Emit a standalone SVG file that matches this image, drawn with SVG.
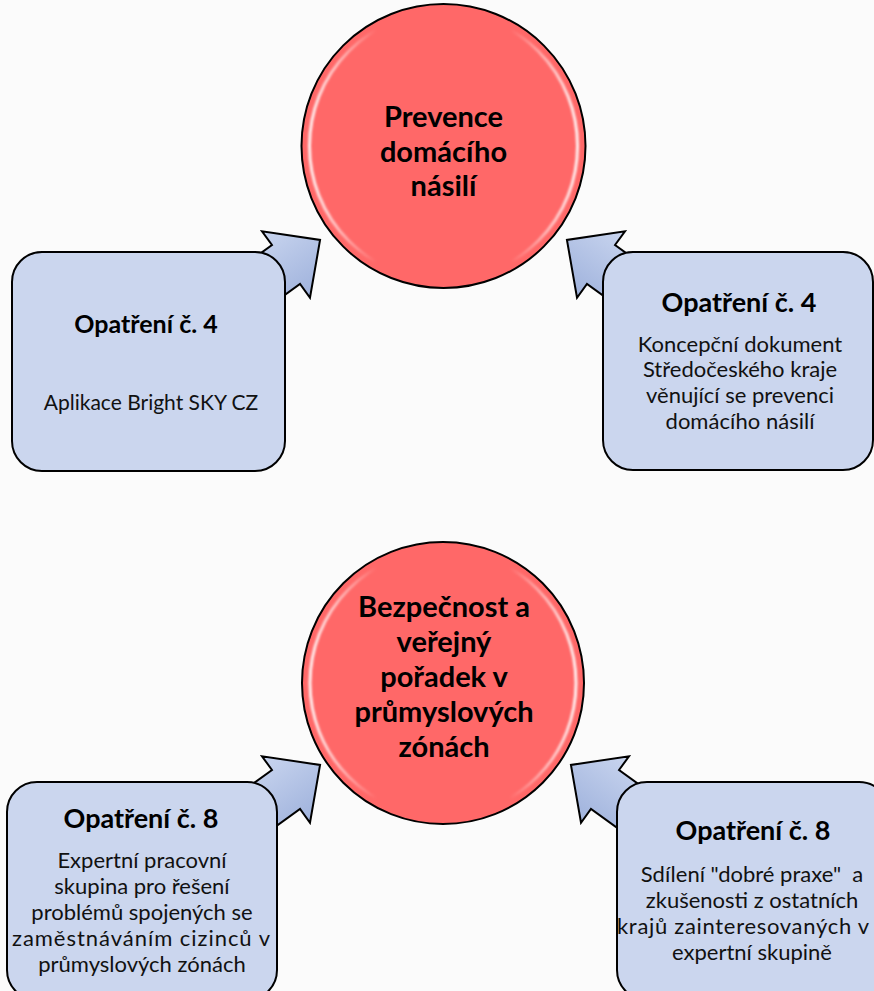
<svg xmlns="http://www.w3.org/2000/svg" width="874" height="991" viewBox="0 0 874 991">
<defs>
<style>
.circ{fill:#ff6868;stroke:#000;stroke-width:2}
.ring{fill:none;stroke:url(#ringg);stroke-width:3;filter:url(#blur)}
.box{fill:#cbd6ee;stroke:#000;stroke-width:2}
.hl{stroke:#fff;stroke-width:5;stroke-linecap:round;opacity:1;filter:url(#blur)}
.arr{fill:url(#arrg);stroke:#000;stroke-width:2;stroke-linejoin:miter}
.ct{font-family:Lato,"Liberation Sans",sans-serif;font-weight:bold;font-size:29px;fill:#000;text-anchor:middle}
.tt{font-family:Lato,"Liberation Sans",sans-serif;font-weight:bold;font-size:25px;fill:#000;text-anchor:middle}
.bt{font-family:Lato,"Liberation Sans",sans-serif;font-size:22px;fill:#111;text-anchor:middle}
</style>
<filter id="blur" x="-20%" y="-20%" width="140%" height="140%"><feGaussianBlur stdDeviation="1.2"/></filter>
<linearGradient id="ringg" x1="0" y1="0" x2="1" y2="0">
<stop offset="0" stop-color="#fff" stop-opacity="0.9"/>
<stop offset="0.12" stop-color="#fff" stop-opacity="0.5"/>
<stop offset="0.25" stop-color="#fff" stop-opacity="0"/>
<stop offset="0.75" stop-color="#fff" stop-opacity="0"/>
<stop offset="0.88" stop-color="#fff" stop-opacity="0.5"/>
<stop offset="1" stop-color="#fff" stop-opacity="0.9"/>
</linearGradient>
<linearGradient id="arrg" x1="0" y1="0" x2="0" y2="1">
<stop offset="0" stop-color="#c9d5ef"/>
<stop offset="1" stop-color="#9fb2dc"/>
</linearGradient>
<polygon id="arrow" points="-48,-24 0,-24 0,-41 42,0 0,41 0,24 -48,24"/>
</defs>
<rect width="874" height="991" fill="#fbfbfb"/>

<g id="connectors">
<use href="#arrow" class="arr" transform="translate(286,264.5) rotate(-35.8)"/>
<g transform="translate(887,0) scale(-1,1)"><use href="#arrow" class="arr" transform="translate(286,264.5) rotate(-35.8)"/></g>
<use href="#arrow" class="arr" transform="translate(286,789.5) rotate(-35.8)"/>
<g transform="translate(891,0) scale(-1,1)"><use href="#arrow" class="arr" transform="translate(286,789.5) rotate(-35.8)"/></g>
</g>

<g id="c1">
<circle class="circ" cx="443.5" cy="146" r="142"/>
<circle class="ring" cx="443.5" cy="146" r="134"/>
<text class="ct" x="443.5" y="127">Prevence</text>
<text class="ct" x="443.5" y="162">domácího</text>
<text class="ct" x="443.5" y="196">násilí</text>
</g>

<g id="c2">
<circle class="circ" cx="443" cy="683" r="141"/>
<circle class="ring" cx="443" cy="683" r="133"/>
<text class="ct" x="444" y="617">Bezpečnost a</text>
<text class="ct" x="444" y="652">veřejný</text>
<text class="ct" x="444" y="687">pořadek v</text>
<text class="ct" x="444" y="722">průmyslových</text>
<text class="ct" x="444" y="757">zónách</text>
</g>

<g id="b1">
<rect class="box" x="12" y="252" width="273" height="219" rx="30"/>
<line class="hl" x1="29" y1="275" x2="29" y2="450"/>
<line class="hl" x1="271" y1="275" x2="271" y2="450"/>
<text class="tt" x="146" y="333">Opatření č. 4</text>
<text class="bt" x="151" y="410" style="font-size:21px">Aplikace Bright SKY CZ</text>
</g>

<g id="b2">
<rect class="box" x="603" y="252" width="270" height="218" rx="30"/>
<line class="hl" x1="620" y1="275" x2="620" y2="450"/>
<line class="hl" x1="861" y1="275" x2="861" y2="450"/>
<text class="tt" x="739" y="312" style="font-size:27px">Opatření č. 4</text>
<text class="bt" x="740" y="352">Koncepční dokument</text>
<text class="bt" x="740" y="377">Středočeského kraje</text>
<text class="bt" x="740" y="403">věnující se prevenci</text>
<text class="bt" x="740" y="429">domácího násilí</text>
</g>

<g id="b3">
<rect class="box" x="7" y="782" width="270" height="218" rx="30"/>
<line class="hl" x1="24" y1="805" x2="24" y2="980"/>
<line class="hl" x1="264" y1="805" x2="264" y2="980"/>
<text class="tt" x="141" y="828" style="font-size:27px">Opatření č. 8</text>
<text class="bt" x="142" y="868">Expertní pracovní</text>
<text class="bt" x="142" y="894">skupina pro řešení</text>
<text class="bt" x="142" y="920">problémů spojených se</text>
<text class="bt" x="12" y="946" style="text-anchor:start" textLength="258">zaměstnáváním cizinců v</text>
<text class="bt" x="142" y="972">průmyslových zónách</text>
</g>

<g id="b4">
<rect class="box" x="617" y="782" width="272" height="218" rx="30"/>
<line class="hl" x1="634" y1="805" x2="634" y2="980"/>
<text class="tt" x="753" y="840" style="font-size:27px">Opatření č. 8</text>
<text class="bt" x="752" y="882" xml:space="preserve">Sdílení "dobré praxe"  a</text>
<text class="bt" x="752" y="908">zkušenosti z ostatních</text>
<text class="bt" x="617" y="934" style="text-anchor:start" textLength="252">krajů zainteresovaných v</text>
<text class="bt" x="752" y="960">expertní skupině</text>
</g>
</svg>
